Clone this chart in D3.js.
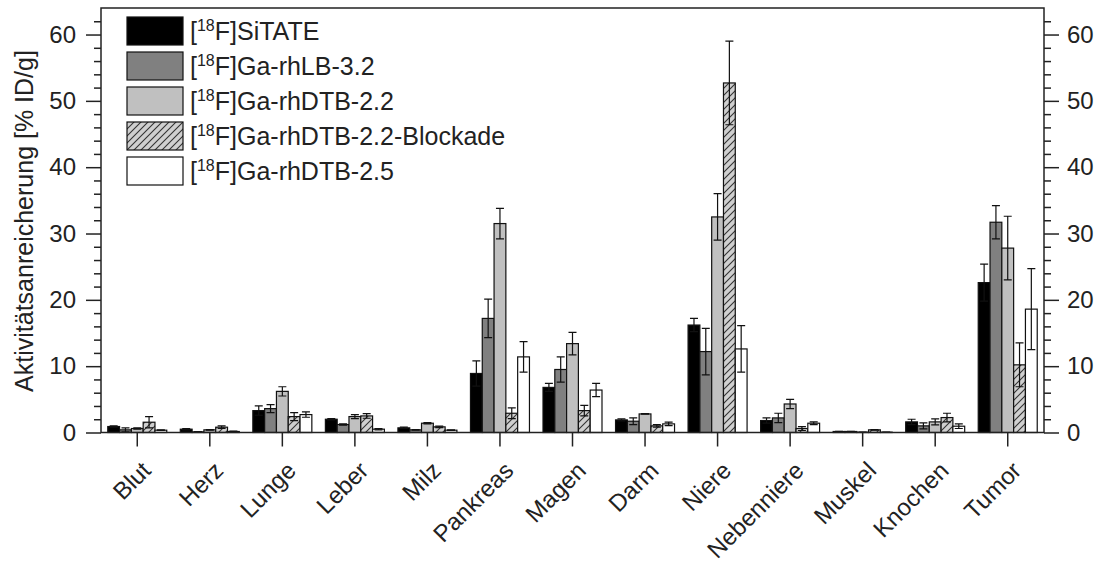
<!DOCTYPE html>
<html>
<head>
<meta charset="utf-8">
<script src="https://cdn.jsdelivr.net/npm/d3@7"></script>
<style>
  html, body { margin: 0; padding: 0; background: #fff; }
  svg { display: block; font-family: "Liberation Sans", Arial, sans-serif; }
</style>
</head>
<body>
<svg id="chart" width="1103" height="572"></svg>
<script>
// Organs on the x axis
const categories = ["Blut", "Herz", "Lunge", "Leber", "Milz", "Pankreas", "Magen",
  "Darm", "Niere", "Nebenniere", "Muskel", "Knochen", "Tumor"];

// Tracer names (legend order)
const seriesNames = ["SiTATE", "Ga-rhLB-3.2", "Ga-rhDTB-2.2", "Ga-rhDTB-2.2-Blockade", "Ga-rhDTB-2.5"];

// Mean uptake [% ID/g] per organ
const sitate      = [0.9, 0.5, 3.3, 2.0, 0.7, 8.9, 6.8, 1.9, 16.2, 1.8, 0.15, 1.6, 22.6];
const rhLB32      = [0.4, 0.1, 3.6, 1.2, 0.4, 17.2, 9.5, 1.7, 12.2, 2.2, 0.15, 1.0, 31.7];
const rhDTB22     = [0.6, 0.4, 6.2, 2.4, 1.4, 31.5, 13.4, 2.8, 32.5, 4.3, 0.05, 1.6, 27.8];
const rhDTB22blk  = [1.55, 0.8, 2.4, 2.5, 0.85, 2.9, 3.3, 1.0, 52.7, 0.6, 0.4, 2.25, 10.2];
const rhDTB25     = [0.35, 0.15, 2.7, 0.5, 0.35, 11.4, 6.4, 1.3, 12.6, 1.4, 0.05, 0.95, 18.6];

// Standard deviations
const sitateSd     = [0.1, 0.1, 0.7, 0.1, 0.1, 1.9, 0.6, 0.15, 1.0, 0.4, 0.02, 0.4, 2.8];
const rhLB32Sd     = [0.3, 0.05, 0.6, 0.1, 0.05, 2.9, 1.9, 0.5, 3.5, 0.7, 0.02, 0.45, 2.5];
const rhDTB22Sd    = [0.1, 0.05, 0.7, 0.3, 0.1, 2.3, 1.7, 0.05, 3.5, 0.7, 0.01, 0.45, 4.8];
const rhDTB22blkSd = [0.85, 0.2, 0.6, 0.35, 0.1, 0.8, 0.8, 0.2, 6.3, 0.3, 0.05, 0.65, 3.3];
const rhDTB25Sd    = [0.05, 0.05, 0.4, 0.1, 0.05, 2.3, 1.0, 0.25, 3.5, 0.2, 0.01, 0.35, 6.1];

// Axis tick values
const majorTicks = [0, 10, 20, 30, 40, 50, 60];
const minorTicks = d3.range(0, 64, 2);

const means = [sitate, rhLB32, rhDTB22, rhDTB22blk, rhDTB25];
const sds = [sitateSd, rhLB32Sd, rhDTB22Sd, rhDTB22blkSd, rhDTB25Sd];
const fills = ["#000000", "#808080", "#c0c0c0", "url(#hatch)", "#ffffff"];

const svg = d3.select("#chart");
const plotLeft = 101, plotRight = 1044, plotTop = 8, plotBottom = 432.5;

// Diagonal hatch for the blocking study
const defs = svg.append("defs");
const pat = defs.append("pattern")
  .attr("id", "hatch").attr("patternUnits", "userSpaceOnUse")
  .attr("width", 7).attr("height", 7);
pat.append("rect").attr("width", 7).attr("height", 7).attr("fill", "#cfcfcf");
pat.append("path")
  .attr("d", "M0,7 L7,0 M-1.75,1.75 L1.75,-1.75 M5.25,8.75 L8.75,5.25")
  .attr("stroke", "#333").attr("stroke-width", 1.1);

const x = d3.scaleBand().domain(categories).range([plotLeft, plotRight]).padding(0);
const x1 = d3.scaleBand().domain(d3.range(seriesNames.length))
  .range([0, x.bandwidth()]).paddingInner(0).paddingOuter(0.574);
const y = d3.scaleLinear().domain([0, 64]).range([plotBottom, plotTop]);

const rows = [];
means.forEach((arr, s) => arr.forEach((v, i) => rows.push({ s, cat: categories[i], v, sd: sds[s][i] })));

// Bars
svg.append("g").selectAll("rect").data(rows).join("rect")
  .attr("x", d => x(d.cat) + x1(d.s))
  .attr("y", d => y(d.v))
  .attr("width", x1.bandwidth())
  .attr("height", d => y(0) - y(d.v))
  .attr("fill", d => fills[d.s])
  .attr("stroke", "#111").attr("stroke-width", 1.2);

// Error bars
const eb = svg.append("g").attr("stroke", "#111").attr("stroke-width", 1.2).attr("fill", "none");
const cx = d => x(d.cat) + x1(d.s) + x1.bandwidth() / 2;
eb.selectAll("path").data(rows).join("path")
  .attr("d", d => {
    const c = cx(d), hi = y(d.v + d.sd), lo = y(Math.max(0, d.v - d.sd)), w = 4;
    return `M${c},${lo}V${hi}M${c - w},${hi}H${c + w}M${c - w},${lo}H${c + w}`;
  });

// Frame
const axisColor = "#222";
svg.append("rect").attr("x", plotLeft).attr("y", plotTop)
  .attr("width", plotRight - plotLeft).attr("height", plotBottom - plotTop)
  .attr("fill", "none").attr("stroke", axisColor).attr("stroke-width", 1.5);

// Left and right axes
const yLeft = svg.append("g").attr("transform", `translate(${plotLeft},0)`)
  .call(d3.axisLeft(y).tickValues(majorTicks).tickSize(15).tickPadding(10).tickFormat(d3.format("d")));
const yLeftMinor = svg.append("g").attr("transform", `translate(${plotLeft},0)`)
  .call(d3.axisLeft(y).tickValues(minorTicks.filter(t => t % 10 !== 0)).tickSize(7).tickFormat(""));
const yRight = svg.append("g").attr("transform", `translate(${plotRight},0)`)
  .call(d3.axisRight(y).tickValues(majorTicks).tickSize(15).tickPadding(8).tickFormat(d3.format("d")));
const yRightMinor = svg.append("g").attr("transform", `translate(${plotRight},0)`)
  .call(d3.axisRight(y).tickValues(minorTicks.filter(t => t % 10 !== 0)).tickSize(7).tickFormat(""));

// Category axis
const xAxis = svg.append("g").attr("transform", `translate(0,${plotBottom})`)
  .call(d3.axisBottom(x).tickSize(14).tickFormat(""));

[yLeft, yLeftMinor, yRight, yRightMinor, xAxis].forEach(g => {
  g.select(".domain").remove();
  g.selectAll(".tick line").attr("stroke", axisColor).attr("stroke-width", 1.5);
  g.selectAll(".tick text").attr("fill", "#222").style("font-size", "24px")
    .style("font-family", "'Liberation Sans', Arial, sans-serif");
});

// Rotated organ labels
svg.append("g").selectAll("text").data(categories).join("text")
  .attr("transform", d => `translate(${x(d) + x.bandwidth() / 2 + 15},${472}) rotate(-45)`)
  .attr("text-anchor", "end")
  .attr("fill", "#222")
  .style("font-size", "24px")
  .text(d => d);

// Y axis title
svg.append("text")
  .attr("transform", `translate(33,${221}) rotate(-90)`)
  .attr("text-anchor", "middle")
  .attr("fill", "#222")
  .style("font-size", "25px")
  .text("Aktivitätsanreicherung [% ID/g]");

// Legend
const legend = svg.append("g");
const lg = legend.selectAll("g").data(seriesNames).join("g")
  .attr("transform", (d, i) => `translate(127,${17 + i * 35})`);
lg.append("rect").attr("width", 56).attr("height", 28)
  .attr("fill", (d, i) => fills[i]).attr("stroke", "#111").attr("stroke-width", 1.2);
const lt = lg.append("text").attr("x", 63).attr("y", 23).attr("fill", "#222").style("font-size", "25px");
lt.append("tspan").text("[");
lt.append("tspan").attr("dy", -9).style("font-size", "16px").text("18");
lt.append("tspan").attr("dy", 9).text("F]");
lt.append("tspan").text(d => d);
</script>
</body>
</html>
